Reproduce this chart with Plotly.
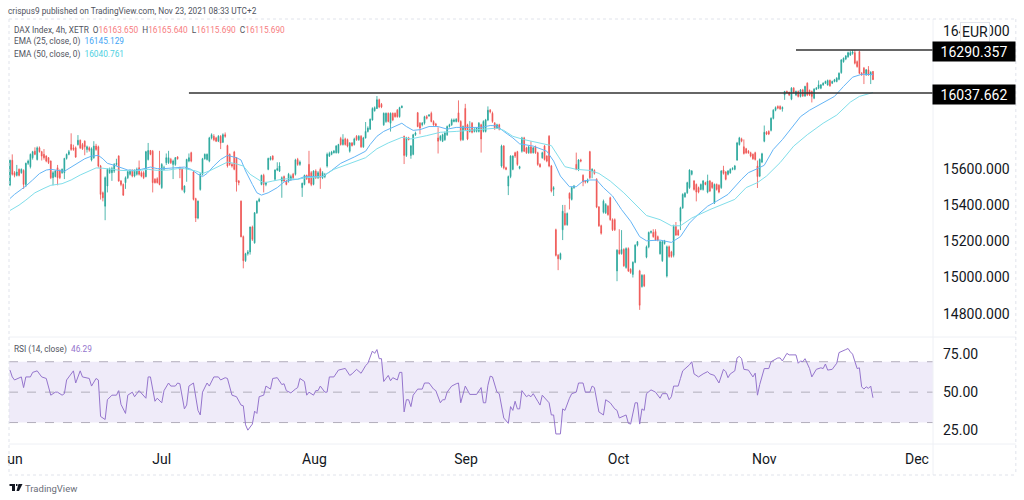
import math
import plotly.graph_objects as go
from plotly.subplots import make_subplots

# DAX 4h candles
opens = [
    15512,15651,15581,15566,15600,15581,15594,15515,15634,15615,
    15666,15703,15656,15722,15700,15685,15675,15666,15647,15553,
    15559,15609,15590,15581,15581,15662,15685,15741,15722,15722,
    15741,15765,15741,15760,15713,15722,15653,15666,15732,15728,
    15619,15468,15393,15506,15581,15581,15590,15628,15675,15534,
    15515,15525,15553,15572,15590,15562,15572,15609,15581,15581,
    15559,15656,15707,15703,15544,15547,15600,15497,15600,15638,
    15638,15656,15628,15628,15670,15609,15600,15472,15600,15647,
    15694,15585,15435,15327,15487,15572,15660,15656,15647,15779,
    15788,15779,15760,15788,15754,15797,15735,15685,15628,15698,
    15666,15534,15421,15224,15092,15130,15140,15277,15190,15356,
    15421,15515,15566,15515,15600,15656,15675,15544,15596,15590,
    15534,15559,15534,15534,15544,15572,15572,15656,15628,15497,
    15515,15566,15628,15581,15515,15590,15553,15600,15553,15559,
    15619,15675,15685,15694,15694,15694,15775,15741,15773,15769,
    15703,15750,15741,15788,15769,15788,15728,15779,15816,15829,
    15882,15935,15948,15999,15972,15854,15873,15920,15863,15920,
    15920,15938,15901,15953,15788,15679,15779,15679,15685,15797,
    15923,15863,15854,15863,15901,15905,15920,15873,15859,15779,
    15769,15760,15769,15797,15844,15854,15873,15873,15923,15873,
    15769,15948,15854,15816,15863,15816,15816,15816,15854,15816,
    15816,15882,15938,15920,15863,15835,15854,15619,15732,15609,
    15506,15559,15600,15694,15700,15606,15703,15779,15722,15694,
    15728,15694,15728,15694,15628,15666,15732,15675,15788,15619,
    15487,15262,15121,15102,15262,15352,15290,15465,15431,15497,
    15628,15600,15653,15566,15534,15529,15700,15590,15594,15544,
    15388,15284,15359,15356,15393,15440,15318,15318,15036,15149,
    15130,15153,15055,15158,15045,15017,15083,15177,15036,14951,
    15012,15111,15168,15247,15247,15252,15224,15130,15092,15186,
    15008,15168,15140,15121,15280,15258,15309,15384,15446,15468,
    15497,15572,15534,15515,15497,15487,15487,15525,15472,15534,
    15525,15412,15515,15510,15497,15596,15585,15572,15581,15600,
    15600,15653,15741,15773,15728,15717,15703,15694,15685,15694,
    15619,15562,15641,15760,15811,15816,15822,15891,15938,15960,
    15960,15946,
    16027,16047,16041,16002,16066,16027,16047,16018,16056,16021,
    16095,16053,16047,16008,16060,16066,16066,16085,16095,16085,
    16111,16095,16105,16105,16118,16157,16221,16237,16250,16260,
    16270,16274,16221,16280,16153,16183,16144,16173,16144,16163.65,
]
closes = [
    15651,15572,15566,15585,15566,15600,15515,15634,15647,15685,
    15700,15685,15722,15700,15675,15666,15647,15638,15553,15581,
    15590,15553,15553,15600,15662,15685,15700,15713,15713,15670,
    15765,15722,15717,15728,15728,15709,15717,15732,15713,15619,
    15459,15440,15553,15600,15600,15604,15628,15634,15534,15515,
    15455,15553,15587,15590,15562,15590,15600,15572,15562,15553,
    15700,15707,15685,15525,15525,15525,15515,15628,15609,15666,
    15666,15638,15647,15666,15660,15600,15487,15506,15656,15666,
    15647,15431,15327,15421,15572,15660,15685,15685,15779,15797,
    15769,15760,15788,15750,15797,15788,15619,15628,15619,15600,
    15529,15525,15224,15092,15130,15140,15277,15209,15356,15421,
    15431,15566,15515,15525,15662,15666,15656,15596,15604,15619,
    15553,15534,15515,15572,15559,15553,15653,15628,15641,15521,
    15566,15547,15525,15515,15590,15553,15581,15553,15581,15572,
    15685,15690,15698,15703,15732,15741,15741,15769,15741,15732,
    15750,15735,15773,15769,15788,15728,15779,15816,15835,15886,
    15948,15953,15999,15957,15957,15920,15920,15873,15920,15882,
    15901,15901,15953,15961,15679,15779,15769,15732,15797,15807,
    15844,15835,15863,15901,15891,15910,15873,15854,15850,15760,
    15788,15797,15807,15844,15854,15882,15882,15886,15873,15769,
    15844,15826,15773,15826,15811,15829,15835,15863,15773,15873,
    15882,15938,15929,15873,15835,15854,15829,15732,15609,15600,
    15559,15675,15675,15675,15628,15615,15779,15703,15694,15728,
    15694,15722,15694,15628,15615,15694,15656,15647,15619,15478,
    15497,15121,15102,15130,15365,15290,15352,15436,15497,15506,
    15600,15653,15647,15529,15529,15540,15553,15600,15577,15388,
    15284,15243,15421,15403,15346,15318,15262,15262,15149,15130,
    15153,15064,15158,15036,15027,15083,15177,15196,14850,15012,
    14955,15168,15247,15252,15224,15205,15205,15196,15196,15200,
    15168,15115,15115,15280,15233,15233,15384,15459,15465,15525,
    15596,15590,15487,15472,15472,15515,15534,15515,15534,15478,
    15497,15515,15487,15472,15590,15577,15544,15590,15600,15605,
    15619,15750,15779,15760,15690,15694,15694,15675,15660,15656,
    15559,15656,15688,15811,15801,15801,15891,15938,15953,15950,
    15946,15954,
    16047,16041,16027,16066,16041,16047,16018,16056,16021,16076,
    16027,16027,16018,16060,16066,16085,16085,16095,16105,16111,
    16080,16105,16115,16124,16153,16231,16241,16254,16274,16274,
    16278,16212,16192,16153,16144,16153,16173,16144,16159,16115.69,
]
highs = [
    15655,15685,15590,15625,15605,15605,15600,15638,15655,15690,
    15705,15725,15730,15730,15705,15715,15680,15670,15650,15590,
    15595,15625,15600,15605,15665,15690,15710,15805,15740,15730,
    15795,15770,15750,15765,15735,15730,15725,15760,15745,15735,
    15625,15475,15560,15605,15610,15615,15635,15660,15680,15540,
    15520,15560,15595,15600,15600,15600,15610,15650,15590,15590,
    15705,15750,15710,15710,15550,15555,15705,15635,15620,15690,
    15705,15665,15655,15670,15675,15615,15610,15510,15660,15690,
    15700,15590,15440,15425,15580,15665,15690,15690,15785,15805,
    15800,15785,15795,15795,15805,15810,15740,15690,15635,15705,
    15670,15540,15425,15230,15135,15150,15280,15285,15360,15425,
    15440,15570,15575,15530,15666,15675,15680,15600,15640,15640,
    15560,15565,15540,15580,15570,15580,15660,15665,15650,15525,
    15570,15570,15705,15590,15595,15600,15590,15610,15590,15580,
    15695,15700,15705,15710,15738,15745,15785,15800,15780,15775,
    15755,15755,15780,15795,15795,15795,15785,15870,15845,15890,
    15955,15960,16020,16005,15980,15925,15925,15925,15925,15925,
    15925,15945,15958,15966,15792,15785,15785,15738,15802,15815,
    15928,15870,15870,15906,15910,15916,15930,15880,15865,15840,
    15795,15803,15815,15850,15860,15890,15890,15892,15995,15880,
    15850,15975,15860,15875,15870,15835,15840,15870,15860,15880,
    15888,15960,15945,15930,15870,15860,15860,15740,15738,15615,
    15565,15680,15680,15700,15705,15620,15785,15785,15728,15735,
    15760,15728,15735,15700,15635,15700,15738,15680,15795,15625,
    15505,15268,15128,15136,15400,15400,15358,15470,15503,15512,
    15695,15658,15660,15572,15540,15548,15705,15606,15600,15550,
    15394,15290,15430,15410,15400,15446,15325,15325,15155,15265,
    15260,15160,15165,15165,15050,15088,15182,15200,15042,15018,
    15018,15175,15252,15258,15265,15265,15230,15202,15202,15206,
    15175,15175,15146,15290,15305,15265,15390,15465,15472,15530,
    15600,15596,15540,15520,15503,15520,15540,15530,15570,15540,
    15530,15520,15520,15516,15596,15620,15590,15596,15606,15612,
    15625,15756,15785,15780,15770,15722,15710,15700,15690,15700,
    15650,15662,15694,15850,15818,15822,15897,15944,15960,15966,
    15966,15960,
    16050,16052,16046,16072,16072,16052,16052,16061,16062,16080,
    16100,16058,16052,16066,16072,16111,16090,16100,16110,16116,
    16116,16110,16120,16130,16158,16236,16246,16260,16280,16285,
    16290,16290,16228,16285,16160,16190,16178,16195,16165,16165.64,
]
lows = [
    15505,15565,15555,15560,15560,15575,15490,15500,15625,15605,
    15655,15680,15650,15695,15650,15655,15640,15630,15545,15510,
    15555,15510,15545,15575,15545,15655,15680,15705,15705,15665,
    15735,15715,15710,15680,15695,15700,15645,15660,15705,15610,
    15430,15420,15315,15470,15575,15535,15580,15620,15530,15505,
    15450,15490,15545,15565,15555,15555,15565,15565,15555,15545,
    15555,15650,15680,15470,15520,15520,15510,15490,15595,15625,
    15630,15630,15545,15620,15655,15550,15480,15465,15530,15640,
    15640,15425,15305,15320,15480,15565,15655,15650,15640,15770,
    15760,15755,15755,15715,15750,15780,15610,15620,15610,15595,
    15475,15510,15220,15050,15085,15120,15125,15200,15185,15350,
    15415,15510,15470,15505,15595,15650,15650,15535,15590,15585,
    15440,15530,15510,15525,15535,15545,15565,15620,15620,15445,
    15510,15540,15520,15505,15510,15545,15545,15490,15545,15550,
    15610,15670,15680,15690,15690,15690,15735,15735,15735,15725,
    15695,15730,15735,15762,15762,15722,15722,15775,15810,15825,
    15878,15930,15945,15950,15950,15848,15865,15868,15815,15875,
    15895,15895,15895,15950,15630,15670,15765,15660,15680,15790,
    15840,15800,15845,15855,15885,15900,15868,15848,15845,15690,
    15760,15755,15762,15790,15838,15848,15868,15868,15868,15760,
    15762,15820,15766,15810,15805,15810,15810,15810,15695,15810,
    15810,15875,15920,15865,15825,15830,15822,15610,15600,15595,
    15455,15550,15595,15665,15620,15600,15695,15698,15688,15688,
    15688,15690,15688,15620,15610,15660,15650,15640,15612,15470,
    15450,15115,15040,15095,15205,15284,15284,15375,15425,15490,
    15595,15590,15640,15505,15520,15522,15545,15550,15570,15382,
    15278,15235,15352,15350,15340,15312,15255,15255,14980,15125,
    15125,15058,15048,15030,15020,15000,15078,15170,14825,14945,
    14948,15105,15160,15240,15218,15200,15198,15125,15085,15180,
    15000,15108,15108,15110,15228,15228,15260,15378,15440,15462,
    15490,15566,15480,15420,15465,15482,15480,15510,15465,15472,
    15490,15405,15480,15465,15490,15570,15538,15566,15575,15595,
    15595,15648,15735,15754,15684,15688,15688,15668,15654,15650,
    15495,15556,15635,15754,15795,15795,15816,15885,15932,15944,
    15940,15930,
    15998,16035,16020,15996,16035,16020,16012,16012,16015,16015,
    16020,16020,15983,16002,16055,16060,16060,16080,16090,16080,
    16074,16090,16100,16100,16112,16150,16215,16230,16244,16255,
    16262,16205,16186,16148,16138,16090,16138,16138,16090,16115.69,
]

ema25_bars = [0,2,5,7,10,13,16,18,24,26,30,33,36,39,41,43,46,49,52,55,58,62,65,68,73,77,80,83,85,87,90,93,96,100,102,104,107,109,111,114,118,121,124,127,130,133,138,142,146,152,157,159,162,165,168,173,175,178,181,185,189,193,197,204,208,212,215,218,222,225,231,237,240,243,247,250,253,256,259,262,266,270,274,278,281,287,292,296,300,303,308,312,317,323,326,330,333,337,341,345,349,353,361,364,368,372,376,379,381]
ema25_vals = [15436,15459,15487,15506,15540,15576,15596,15600,15589,15604,15634,15660,15675,15679,15660,15634,15623,15609,15596,15594,15600,15613,15604,15604,15609,15613,15600,15572,15559,15577,15619,15656,15679,15666,15653,15591,15515,15468,15455,15468,15497,15529,15540,15544,15559,15559,15559,15594,15634,15670,15703,15741,15788,15816,15835,15863,15844,15822,15826,15844,15844,15829,15839,15839,15839,15850,15848,15816,15779,15745,15732,15703,15647,15562,15502,15502,15534,15540,15540,15497,15450,15374,15309,15224,15201,15205,15192,15224,15299,15337,15393,15421,15459,15544,15581,15604,15623,15713,15769,15835,15901,15938,15995,16018,16076,16130,16147,16144,16145.129]
ema50_bars = [0,4,7,11,15,18,23,27,31,35,38,41,45,49,55,61,65,70,74,77,82,85,88,92,96,99,103,106,110,112,116,120,123,127,131,138,143,151,157,162,167,173,177,184,190,197,204,209,215,218,222,227,234,239,242,245,250,256,260,265,271,276,281,287,292,296,301,309,320,325,330,334,340,346,352,359,365,371,375,379,381]
ema50_vals = [15369,15399,15427,15468,15493,15510,15519,15540,15568,15591,15608,15606,15600,15594,15591,15600,15594,15596,15604,15604,15591,15576,15591,15615,15641,15634,15619,15572,15538,15523,15534,15544,15547,15544,15553,15559,15600,15638,15666,15717,15750,15782,15773,15792,15811,15816,15822,15826,15835,15822,15788,15769,15750,15735,15675,15615,15600,15594,15577,15534,15468,15403,15341,15318,15284,15284,15327,15374,15431,15497,15525,15562,15638,15732,15797,15863,15910,15985,16018,16033,16040.761]

rsi_bars = [0,1,2,5,6,7,9,10,12,14,16,18,20,21,23,24,25,28,29,31,32,35,36,38,39,40,42,43,45,47,48,49,51,52,54,55,57,60,61,62,64,65,67,68,70,71,73,74,75,77,78,79,81,83,84,85,87,88,90,92,93,95,96,98,100,102,103,104,105,107,108,109,110,112,113,115,116,118,120,121,122,124,126,127,128,130,131,132,134,135,136,137,139,140,141,143,145,146,147,148,150,151,153,155,157,158,160,161,162,163,164,165,167,168,169,171,172,173,174,175,176,177,178,180,182,183,185,187,188,190,191,192,193,195,197,198,199,201,203,206,208,209,210,211,212,213,215,216,218,219,220,221,222,223,224,225,226,228,229,230,231,233,234,235,237,238,239,240,241,243,244,245,247,248,250,251,253,254,256,257,258,260,262,263,265,267,268,269,272,273,274,276,277,278,279,280,281,283,285,287,288,290,291,292,293,295,296,297,300,301,302,304,306,308,309,311,313,315,316,317,318,320,321,322,323,324,326,328,329,330,331,333,335,336,339,340,341,343,344,346,347,348,349,350,351,353,354,356,358,359,360,361,363,365,366,369,370,371,372,374,375,376,377,378,379,380,381]
rsi_vals = [64.5,60,58,60,53,60,60,63,64,60,59,48,50,50,48,49,58,64,56,64,60,59,54,59,58,34,32,45,48,48,51,42,36,48,50,47,51,46,60,60,44,46,43,51,56,54,54,56,55.5,39,41.5,54,56,38,35,50,56,54,60,60,58,59.5,59,48,47,41.5,41,28.5,25,29,37.5,36,47,48,54,52,59,59.5,55,55.5,51,49.5,52,53,59,57,48,50,48,51,51,54,50,50,60,60,64.5,65,65.6,65.6,61,62,65,62.4,67.4,69,77,75.5,78,72,72,57,61,57.5,59.5,58,63,63,37,45,45,40.5,48,52,52,56,56,52,51,43,45,45,50,54,55.5,56,43,54,48.5,48.5,53,43,43,54.5,60.5,60,50,49,33,31,29.5,40.5,38,44,39,39,51,47,48,47,49,44,41.5,48,45,43,35,35,22.5,22.5,39,38,46,49,50,56,56,50,50,54,53,37,35,45,43,39,38,33,35,29.5,29,43,43,29,39,38,49,51.5,50,46,49,49,45,47,54,54,59,64,68,70,62,60,62,63.5,62,61,56,65,63.5,59.5,62,64,72.5,73.5,72,65,64.5,60,62.5,48,55,65.5,65.5,70,72.5,72.5,70.5,75.5,74.5,74.5,74.5,69,70.5,70,72,65.5,60,65,66,65.5,68.5,64.5,65,69,76,78,78.7,76.5,75,65.5,66,53.5,52,53.5,52.5,54,46.3]

support_level = 16037.662
resistance_level = 16290.357
support_bars = [79, 407.5]
resistance_bars = [347, 407.5]
last_close = 16115.69

price_ticks = [14800, 15000, 15200, 15400, 15600, 16000, 16400]
rsi_ticks = [25, 50, 75]
rsi_levels = [70, 50, 30]
month_bars = [2.2, 67, 134.4, 201.3, 268.7, 333, 400.4]
month_labels = ["un", "Jul", "Aug", "Sep", "Oct", "Nov", "Dec"]

UP = "#26a69a"
DOWN = "#ef5350"
BLUE = "#64b5f6"
CYAN = "#80deea"
PURPLE = "#9575cd"
TEXT = "#131722"
LABEL = "#50535e"
BORDER = "#e0e3eb"
FONT = "Roboto"
GAP = "\u00a0\u00a0"

bars = list(range(len(opens)))


def px(x):
    return (x - 7) / 926


def py(y):
    return (444 - y) / 425


fig = make_subplots(rows=2, cols=1, shared_xaxes=True, vertical_spacing=0)

fig.add_trace(go.Candlestick(
    x=bars, open=opens, high=highs, low=lows, close=closes,
    increasing=dict(line=dict(color=UP, width=0.8), fillcolor=UP),
    decreasing=dict(line=dict(color=DOWN, width=0.8), fillcolor=DOWN),
    whiskerwidth=0,
), row=1, col=1)
fig.add_trace(go.Scatter(x=ema25_bars, y=ema25_vals, mode="lines", line=dict(color=BLUE, width=1)), row=1, col=1)
fig.add_trace(go.Scatter(x=ema50_bars, y=ema50_vals, mode="lines", line=dict(color=CYAN, width=1)), row=1, col=1)
fig.add_trace(go.Scatter(x=support_bars, y=[support_level] * 2, mode="lines", line=dict(color="#333333", width=1.5)), row=1, col=1)
fig.add_trace(go.Scatter(x=resistance_bars, y=[resistance_level] * 2, mode="lines", line=dict(color="#333333", width=1.5)), row=1, col=1)
fig.add_trace(go.Scatter(x=rsi_bars, y=rsi_vals, mode="lines", line=dict(color=PURPLE, width=1)), row=2, col=1)

fig.update_layout(
    width=1024, height=500,
    margin=dict(l=7, r=91, t=19, b=56),
    paper_bgcolor="white", plot_bgcolor="white",
    showlegend=False, hovermode=False, boxgap=0.5,
    font=dict(family=FONT, color=TEXT),
)
fig.update_xaxes(range=[-0.44, 407.5], showgrid=False, zeroline=False, showline=False,
                 rangeslider=dict(visible=False))
fig.update_xaxes(tickmode="array", tickvals=month_bars, ticktext=month_labels, ticks="",
                 ticklabelstandoff=5, tickfont=dict(size=14, color=TEXT, family=FONT), row=2, col=1)
fig.update_yaxes(type="log", range=[math.log10(14680), math.log10(16474)], side="right",
                 domain=[0.2518, 1], showgrid=False, zeroline=False, showline=False,
                 tickmode="array", tickvals=price_ticks, ticktext=["%.3f" % t for t in price_ticks],
                 tickfont=dict(size=14, color=TEXT, family=FONT), ticks="", ticklabelstandoff=9,
                 row=1, col=1)
fig.update_yaxes(range=[15.9, 85.6], side="right", domain=[0, 0.2494],
                 showgrid=False, zeroline=False, showline=False,
                 tickmode="array", tickvals=rsi_ticks, ticktext=["%.2f" % t for t in rsi_ticks],
                 tickfont=dict(size=14, color=TEXT, family=FONT), ticks="", ticklabelstandoff=9,
                 row=2, col=1)

# rsi band and dashed levels
fig.add_shape(type="rect", xref="x2", yref="y2", x0=-0.44, x1=407.5, y0=rsi_levels[2], y1=rsi_levels[0],
              fillcolor="#efebf9", line_width=0, layer="below")
for lvl in rsi_levels:
    fig.add_shape(type="line", xref="x2", yref="y2", x0=-0.44, x1=407.5, y0=lvl, y1=lvl,
                  line=dict(color="#b2aebb", width=1, dash="dash"), layer="below")

# last close line
fig.add_shape(type="line", xref="x", yref="y", x0=-0.44, x1=407.5,
              y0=math.log10(last_close), y1=math.log10(last_close),
              line=dict(color="#f7b7b5", width=1, dash="dot"), layer="below")

# pane frames
for x0, y0, x1, y1, dash in [
    (7, 337, 1016, 337, "solid"), (7, 444, 1016, 444, "solid"), (933, 19, 933, 475, "solid"),
    (7, 19, 1016, 19, "dot"), (7, 475, 1016, 475, "dot"), (7, 19, 7, 475, "dot"), (1016, 19, 1016, 475, "dot"),
]:
    fig.add_shape(type="line", xref="paper", yref="paper", x0=px(x0), x1=px(x1), y0=py(y0), y1=py(y1),
                  line=dict(color=BORDER if dash == "dot" else "#eef0f5", width=1, dash=dash))

# logo
for x0, y0, x1, y1 in [(7.5, 484, 13, 486), (10, 484, 13, 491), (14, 484, 15.5, 486)]:
    fig.add_shape(type="rect", xref="paper", yref="paper", x0=px(x0), x1=px(x1), y0=py(y0), y1=py(y1),
                  fillcolor=TEXT, line_width=0)
fig.add_shape(type="path", xref="paper", yref="paper",
              path="M %f %f L %f %f L %f %f L %f %f Z" % (px(16.5), py(484), px(20.5), py(484), px(17), py(491), px(14.5), py(491)),
              fillcolor=TEXT, line_width=0)


def note(x, y, text, size=8.3, color=LABEL, **kw):
    anchor = kw.pop("xanchor", "left")
    # left annotations sit about 3px right of x because of their padding
    x0 = x - 3 if anchor == "left" else x
    fig.add_annotation(xref="paper", yref="paper", x=px(x0), y=py(y), text=text, showarrow=False,
                       xanchor=anchor, yanchor="middle",
                       font=dict(size=size, color=color, family=FONT), **kw)


def red(s):
    return '<span style="color:#f77c80">%s</span>' % s


note(7, 11, "crispus9 published on TradingView.com, Nov 23, 2021 08:33 UTC+2", color="#50535e")
note(13, 30, "DAX Index, 4h, XETR" + GAP + ("O%s" + GAP + "H%s" + GAP + "L%s" + GAP + "C%s") % (
    red("16163.650"), red("16165.640"), red("16115.690"), red("16115.690")))
note(13, 42, 'EMA (25, close, 0)' + GAP + '<span style="color:#42a5f5">16145.129</span>')
note(13, 54, 'EMA (50, close, 0)' + GAP + '<span style="color:#4dd0e1">16040.761</span>')
note(13, 349, 'RSI (14, close)' + GAP + '<span style="color:#9575cd">46.29</span>')
note(24, 488, "TradingView", size=9.5, color="#6a6d78")

note(975, 32, "EUR", size=14, color=TEXT, xanchor="center", bgcolor="white",
     bordercolor=BORDER, borderwidth=1, borderpad=1)
note(974, 51.5, "%.3f" % resistance_level, size=14, color="white", xanchor="center", bgcolor="black",
     width=81, height=18, borderpad=0.5)
note(974, 94, "%.3f" % support_level, size=14, color="white", xanchor="center", bgcolor="black",
     width=81, height=18, borderpad=0.5)

# body margin off so the figure sits at the page corner
fig.write_html("out.html", config=dict(displayModeBar=False),
               post_script="document.body.style.margin='0';")
